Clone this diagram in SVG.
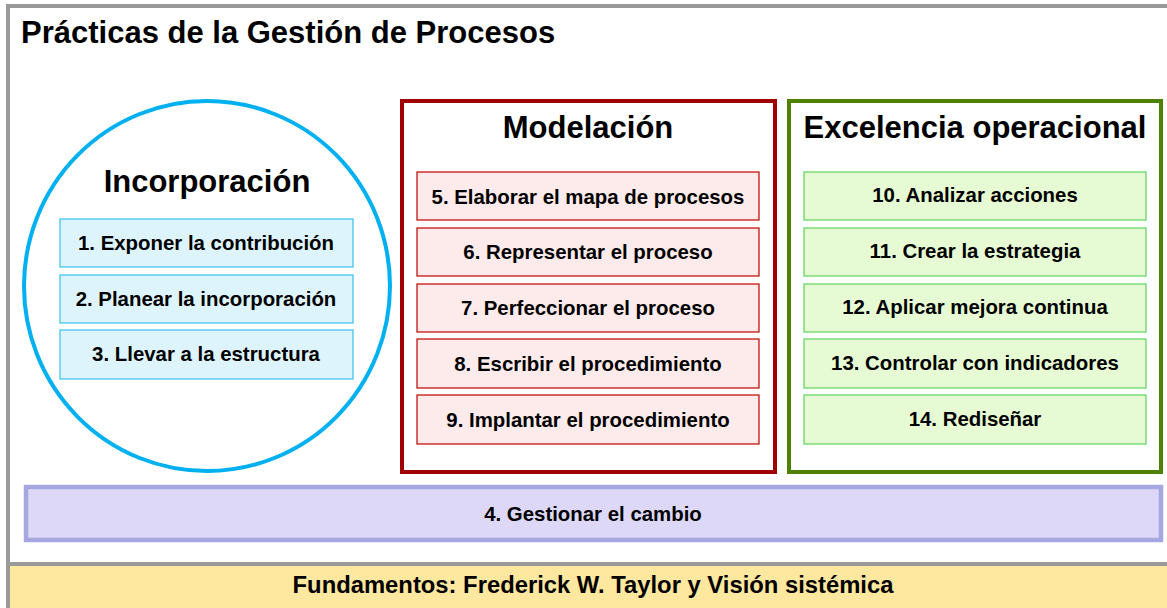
<svg xmlns="http://www.w3.org/2000/svg" width="1167" height="608" viewBox="0 0 1167 608">
<style>
text{font-family:"Liberation Sans",Arial,sans-serif;font-weight:bold;fill:#000;text-anchor:middle}
.h{font-size:31px}
.t{font-size:20.4px}
.b{stroke-width:1.2}
.blue{fill:#DEF4FC;stroke:#38C0F0}
.red{fill:#FCEBEA;stroke:#C00000}
.green{fill:#E6FBD3;stroke:#5ED25E}
</style>
<rect x="0" y="0" width="1167" height="608" fill="#fff"/>
<g id="frame">
<rect x="8" y="6" width="1170" height="558" fill="#fff" stroke="#999" stroke-width="4"/>
<text x="21" y="43" class="h" style="text-anchor:start">Prácticas de la Gestión de Procesos</text>
</g>
<g id="fundamentos">
<rect x="8" y="564" width="1170" height="50" fill="#FEE79E" stroke="#999" stroke-width="4"/>
<text x="593" y="593" style="font-size:23.8px">Fundamentos: Frederick W. Taylor y Visión sistémica</text>
</g>
<g id="incorporacion">
<ellipse cx="207" cy="286" rx="183" ry="185" fill="#fff" stroke="#00B0F0" stroke-width="4"/>
<text x="207" y="192" class="h">Incorporación</text>
</g>
<g id="n1"><rect x="60" y="219" width="293" height="48" class="blue b"/><text x="206" y="250" class="t">1. Exponer la contribución</text></g>
<g id="n2"><rect x="60" y="275" width="293" height="48" class="blue b"/><text x="206" y="306" class="t">2. Planear la incorporación</text></g>
<g id="n3"><rect x="60" y="330" width="293" height="49" class="blue b"/><text x="206" y="361" class="t">3. Llevar a la estructura</text></g>
<g id="modelacion">
<rect x="402" y="101" width="373" height="371" fill="#fff" stroke="#A00000" stroke-width="4"/>
<text x="588" y="138" class="h">Modelación</text>
</g>
<g id="n5"><rect x="417" y="172" width="342" height="48" class="red b"/><text x="588" y="204" class="t">5. Elaborar el mapa de procesos</text></g>
<g id="n6"><rect x="417" y="228" width="342" height="48" class="red b"/><text x="588" y="259" class="t">6. Representar el proceso</text></g>
<g id="n7"><rect x="417" y="284" width="342" height="48" class="red b"/><text x="588" y="315" class="t">7. Perfeccionar el proceso</text></g>
<g id="n8"><rect x="417" y="339" width="342" height="49" class="red b"/><text x="588" y="371" class="t">8. Escribir el procedimiento</text></g>
<g id="n9"><rect x="417" y="395" width="342" height="49" class="red b"/><text x="588" y="427" class="t">9. Implantar el procedimiento</text></g>
<g id="excelencia">
<rect x="789" y="101" width="372" height="371" fill="#fff" stroke="#4F8100" stroke-width="4"/>
<text x="975" y="138" class="h">Excelencia operacional</text>
</g>
<g id="n10"><rect x="804" y="172" width="342" height="48" class="green b"/><text x="975" y="202" class="t">10. Analizar acciones</text></g>
<g id="n11"><rect x="804" y="228" width="342" height="48" class="green b"/><text x="975" y="258" class="t">11. Crear la estrategia</text></g>
<g id="n12"><rect x="804" y="284" width="342" height="48" class="green b"/><text x="975" y="314" class="t">12. Aplicar mejora continua</text></g>
<g id="n13"><rect x="804" y="339" width="342" height="49" class="green b"/><text x="975" y="370" class="t">13. Controlar con indicadores</text></g>
<g id="n14"><rect x="804" y="395" width="342" height="49" class="green b"/><text x="975" y="426" class="t">14. Rediseñar</text></g>
<g id="n4">
<rect x="26" y="487" width="1135" height="53" fill="#DDD8F8" stroke="#A6A6E0" stroke-width="4.5"/>
<text x="593" y="521" class="t">4. Gestionar el cambio</text>
</g>
<g id="connectors"></g>
</svg>
